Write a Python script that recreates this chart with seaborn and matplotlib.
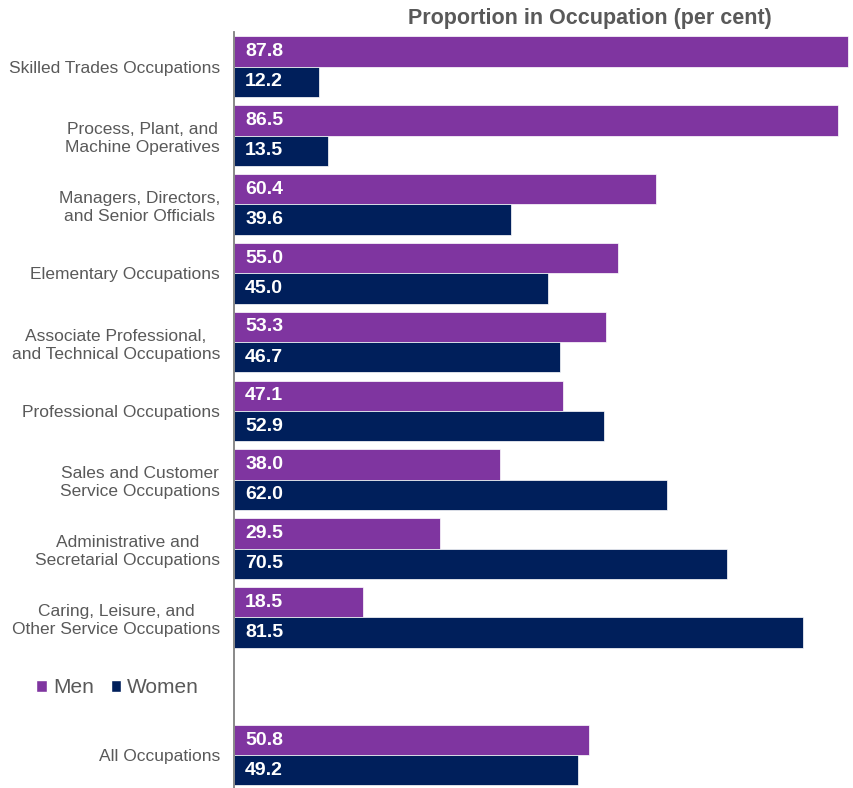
import matplotlib
matplotlib.use('Agg')
import matplotlib.pyplot as plt
from matplotlib.patches import Patch
import seaborn as sns
import pandas as pd

# Datos
ocupaciones = [
    'Skilled Trades Occupations',
    'Process, Plant, and\nMachine Operatives',
    'Managers, Directors,\nand Senior Officials',
    'Elementary Occupations',
    'Associate Professional,\nand Technical Occupations',
    'Professional Occupations',
    'Sales and Customer\nService Occupations',
    'Administrative and\nSecretarial Occupations',
    'Caring, Leisure, and\nOther Service Occupations',
    'All Occupations',
]
hombres = [87.8, 86.5, 60.4, 55.0, 53.3, 47.1, 38.0, 29.5, 18.5, 50.8]
mujeres = [12.2, 13.5, 39.6, 45.0, 46.7, 52.9, 62.0, 70.5, 81.5, 49.2]
series = ['Men', 'Women']

# Hueco vacío donde va la leyenda
orden = ocupaciones[:9] + [''] + ocupaciones[9:]

COLORES = {'Men': '#7F35A0', 'Women': '#001F5B'}
GRIS = '#595959'

datos = pd.DataFrame({
    'Occupation': ocupaciones * 2,
    'Sex': ['Men'] * len(ocupaciones) + ['Women'] * len(ocupaciones),
    'Value': hombres + mujeres,
})

sns.set_style('white')
plt.rcParams['font.family'] = ['Liberation Sans', 'DejaVu Sans']

fig = plt.figure(figsize=(8.54, 7.88), dpi=100)
ax = fig.add_axes([234 / 854, -0.002, (851 - 234) / 854, 0.961])

sns.barplot(data=datos, x='Value', y='Occupation', hue='Sex', order=orden,
            hue_order=series, palette=COLORES, orient='h', width=0.88,
            saturation=1, edgecolor='white', linewidth=0.5, legend=False, ax=ax)

# Etiquetas de valor dentro de cada barra
for cont in ax.containers:
    for barra in cont:
        w = barra.get_width()
        if not w == w:
            continue
        ax.annotate(f'{w:.1f}', (0, barra.get_y() + barra.get_height() / 2),
                    xytext=(8, 0), textcoords='offset points', va='center', ha='left',
                    color='white', fontsize=14, fontweight='bold')

ax.set_xlim(0, 88.3)
ax.set_ylim(10.5, -0.5)
ax.set_xlabel('')
ax.set_ylabel('')
ax.xaxis.set_visible(False)
for lado in ['top', 'right', 'bottom']:
    ax.spines[lado].set_visible(False)
ax.spines['left'].set_color('#808080')
ax.spines['left'].set_linewidth(1.3)
ax.tick_params(axis='y', length=0, pad=10, labelsize=12.5, labelcolor=GRIS)
for t in ax.get_yticklabels():
    t.set_multialignment('center')
    t.set_linespacing(1.25)

fig.text(0.691, 0.977, 'Proportion in Occupation (per cent)', ha='center', va='center',
         fontsize=15.5, fontweight='bold', color=GRIS)

manijas = [Patch(facecolor=COLORES[s], label=s) for s in series]
fig.legend(handles=manijas, loc='center', bbox_to_anchor=(0.138, 0.127), ncol=2,
           frameon=False, fontsize=15, labelcolor=GRIS, handlelength=0.5,
           handleheight=0.5, handletextpad=0.3, columnspacing=0.8)

plt.savefig('out.png', dpi=100)
